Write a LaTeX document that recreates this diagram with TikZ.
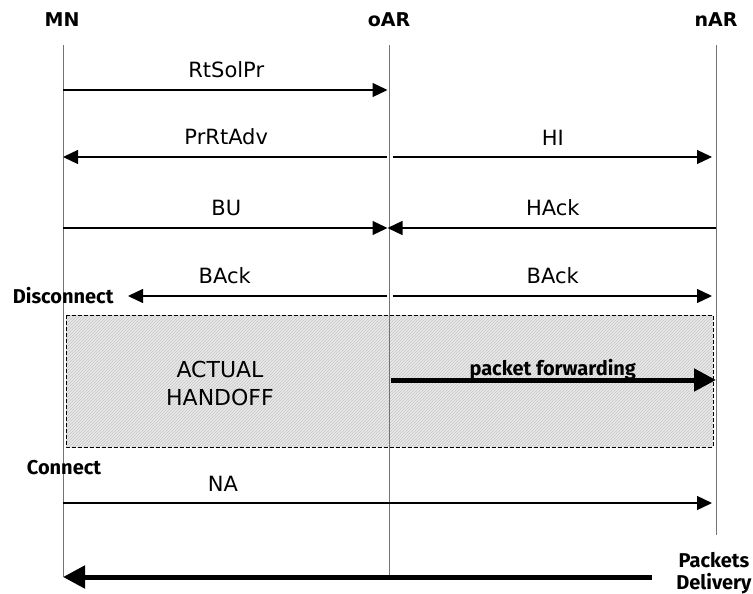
\documentclass[tikz,border=0pt]{standalone}
\usepackage{fontspec}
\setmainfont{DejaVu Sans}
\newfontfamily\notefont{Fira Sans}
\usetikzlibrary{arrows.meta,patterns}

\begin{document}
\begin{tikzpicture}[x=1pt,y=-1pt,
  actor/.style={font=\fontsize{19}{21}\selectfont\bfseries},
  life/.style={draw=black!55, line width=1pt},
  msg/.style={-{Triangle[length=15pt,width=14pt]}, line width=1.3pt},
  bigmsg/.style={-{Triangle[length=22pt,width=22pt]}, line width=5pt},
  lbl/.style={font=\fontsize{21}{25}\selectfont},
  note/.style={font=\notefont\bfseries\fontsize{20}{22}\selectfont}]
\useasboundingbox (0,0) rectangle (753,594);

% the handoff period
\draw[dash pattern=on 4pt off 2pt, line width=0.8pt, preaction={fill=black!9},
  pattern=north east lines, pattern color=black!22] (66,315) rectangle (713,447);
\node[align=center, font=\fontsize{22}{28}\selectfont] (handoff) at (220,383) {ACTUAL\\HANDOFF};

% actors and lifelines
\node[actor] (MN) at (62,20) {MN};
\node[actor] (oAR) at (389,20) {oAR};
\node[actor] (nAR) at (716,20) {nAR};
\draw[life] (63,45) -- (63,577);
\draw[life] (389.5,45) -- (389.5,577);
\draw[life] (716,45) -- (716,535);

% message rows
\foreach \r/\y in {a/90,b/157,c/228,d/296,e/380,f/503,g/577} {
  \coordinate (mn\r) at (63,\y);
  \coordinate (oar\r) at (389.5,\y);
  \coordinate (nar\r) at (716,\y);
}

\draw[msg, shorten >=2pt] (mna) -- node[lbl, above=8pt] {RtSolPr} (oara);
\draw[msg, shorten <=3pt] (oarb) -- node[lbl, above=8pt] {PrRtAdv} (mnb);
\draw[msg, shorten <=3pt, shorten >=4pt] (oarb) -- node[lbl, above=8pt] {HI} (narb);
\draw[msg, shorten >=2pt] (mnc) -- node[lbl, above=8pt] {BU} (oarc);
\draw[msg, shorten >=-2pt] (narc) -- node[lbl, above=8pt] {HAck} (oarc);

\node[note, anchor=east] (disc) at (117,296) {Disconnect};
\draw[msg, shorten <=3pt] (oard) -- node[lbl, above=8pt, pos=0.63] {BAck} ([xshift=11pt]disc.east);
\draw[msg, shorten <=3pt, shorten >=4pt] (oard) -- node[lbl, above=8pt] {BAck} (nard);

\draw[bigmsg, shorten <=1pt] (oare) -- node[note, above, inner sep=0pt, yshift=-2.5pt] {packet forwarding} (nare);

\node[note] (conn) at (64,468) {Connect};
\draw[msg, shorten >=4pt] (mnf) -- node[lbl, above=8pt, pos=0.245] {NA} (narf);

\node[note, align=center] (pkt) at (714,573) {Packets\\Delivery};
\draw[bigmsg] ([xshift=-21pt]pkt.west |- mng) -- (mng);
\end{tikzpicture}
\end{document}
